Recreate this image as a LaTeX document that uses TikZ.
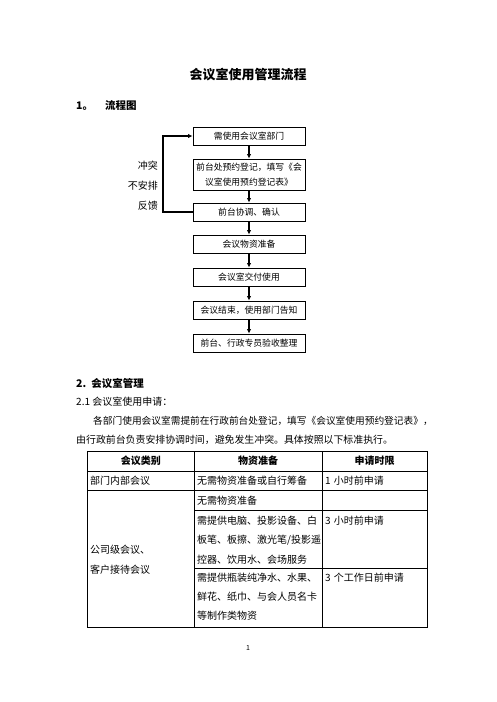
\documentclass[tikz,border=0pt]{standalone}
\usepackage{fontspec}
\setmainfont{Noto Sans CJK SC}
\usetikzlibrary{arrows.meta}
\begin{document}
\begin{tikzpicture}[x=1pt,y=-1pt,
  fbox/.style={draw,line width=0.9pt,minimum width=112pt,minimum height=18pt,inner sep=0pt,
    font=\fontsize{8.8}{15}\selectfont,align=center},
  flow/.style={line width=1.1pt,-{Latex[length=4.5pt,width=4.5pt]}},
  txt/.style={anchor=west,inner sep=0pt,font=\fontsize{10}{12}\selectfont},
  ctxt/.style={inner sep=0pt,font=\fontsize{10}{12}\selectfont},
  side/.style={anchor=east,inner sep=0pt,font=\fontsize{10}{12}\selectfont},
  hdr/.style={inner sep=0pt,font=\fontsize{10}{12}\selectfont\bfseries},
  grid/.style={line width=0.8pt}
]
\fill[white] (0,0) rectangle (496,702);
\useasboundingbox (0,0) rectangle (496,702);

% title and heading
\node[inner sep=0pt,font=\fontsize{13}{15}\selectfont\bfseries] (title) at (248,75) {会议室使用管理流程};
\node[txt,font=\fontsize{10.5}{12}\selectfont\bfseries] (h1) at (76,105) {1。\hspace{12pt}流程图};

% flowchart
\node[fbox] (b1) at (249,136) {需使用会议室部门};
\node[fbox,minimum height=31pt] (b2) at (249,174.5) {前台处预约登记，填写《会\\议室使用预约登记表》};
\node[fbox] (b3) at (249,212) {前台协调、确认};
\node[fbox] (b4) at (249,244) {会议物资准备};
\node[fbox] (b5) at (249,277) {会议室交付使用};
\node[fbox] (b6) at (249,310) {会议结束，使用部门告知};
\node[fbox] (b7) at (249,343) {前台、行政专员验收整理};

\draw[flow] (b1) -- (b2);
\draw[flow] (b2) -- (b3);
\draw[flow] (b3) -- (b4);
\draw[flow] (b4) -- (b5);
\draw[flow] (b5) -- (b6);
\draw[flow] (b6) -- (b7);

\coordinate (fbk) at (163,212);
\draw[flow] (b3.west) -- (fbk) |- (b1.west);

\node[side] (l1) at (158,166) {冲突};
\node[side] (l2) at (158,186) {不安排};
\node[side] (l3) at (158,206) {反馈};

% section 2
\node[txt,font=\fontsize{10.5}{12}\selectfont\bfseries] (h2) at (76,383) {2.\hspace{5pt}会议室管理};
\node[txt] (h21) at (76,402) {2.1 会议室使用申请：};
\node[txt,font=\fontsize{9.7}{12}\selectfont] (p1) at (93,421) {各部门使用会议室需提前在行政前台处登记，填写《会议室使用预约登记表》，};
\node[txt,font=\fontsize{9.9}{12}\selectfont] (p2) at (76,440) {由行政前台负责安排协调时间，避免发生冲突。具体按照以下标准执行。};

% table grid
\draw[grid] (87.5,451) rectangle (427,627);
\draw[grid] (87.5,471) -- (427,471);
\draw[grid] (87.5,490.5) -- (427,490.5);
\draw[grid] (194,510) -- (427,510);
\draw[grid] (194,568) -- (427,568);
\draw[grid] (194,451) -- (194,627);
\draw[grid] (322,451) -- (322,627);

% table text
\node[hdr] (t11) at (140.75,461) {会议类别};
\node[hdr] (t12) at (258,461) {物资准备};
\node[hdr] (t13) at (374.5,461) {申请时限};

\node[txt] (t21) at (90,481) {部门内部会议};
\node[txt] (t22) at (197,481) {无需物资准备或自行筹备};
\node[txt] (t23) at (325,481) {1\hspace{3pt}小时前申请};

\node[txt] (t32) at (197,500.5) {无需物资准备};
\node[txt] (t31a) at (90,550) {公司级会议、};
\node[txt] (t31b) at (90,570) {客户接待会议};

\node[txt] (t42a) at (197,521) {需提供电脑、投影设备、白};
\node[txt] (t42b) at (197,540.5) {板笔、板擦、激光笔/投影遥};
\node[txt] (t42c) at (197,559.5) {控器、饮用水、会场服务};
\node[txt] (t43) at (325,521) {3\hspace{3pt}小时前申请};

\node[txt] (t52a) at (197,578) {需提供瓶装纯净水、水果、};
\node[txt] (t52b) at (197,597) {鲜花、纸巾、与会人员名卡};
\node[txt] (t52c) at (197,616) {等制作类物资};
\node[txt] (t53) at (325,578) {3\hspace{3pt}个工作日前申请};

\node[inner sep=0pt,font=\fontsize{7}{8}\selectfont] (pg) at (248,648) {1};
\end{tikzpicture}
\end{document}
